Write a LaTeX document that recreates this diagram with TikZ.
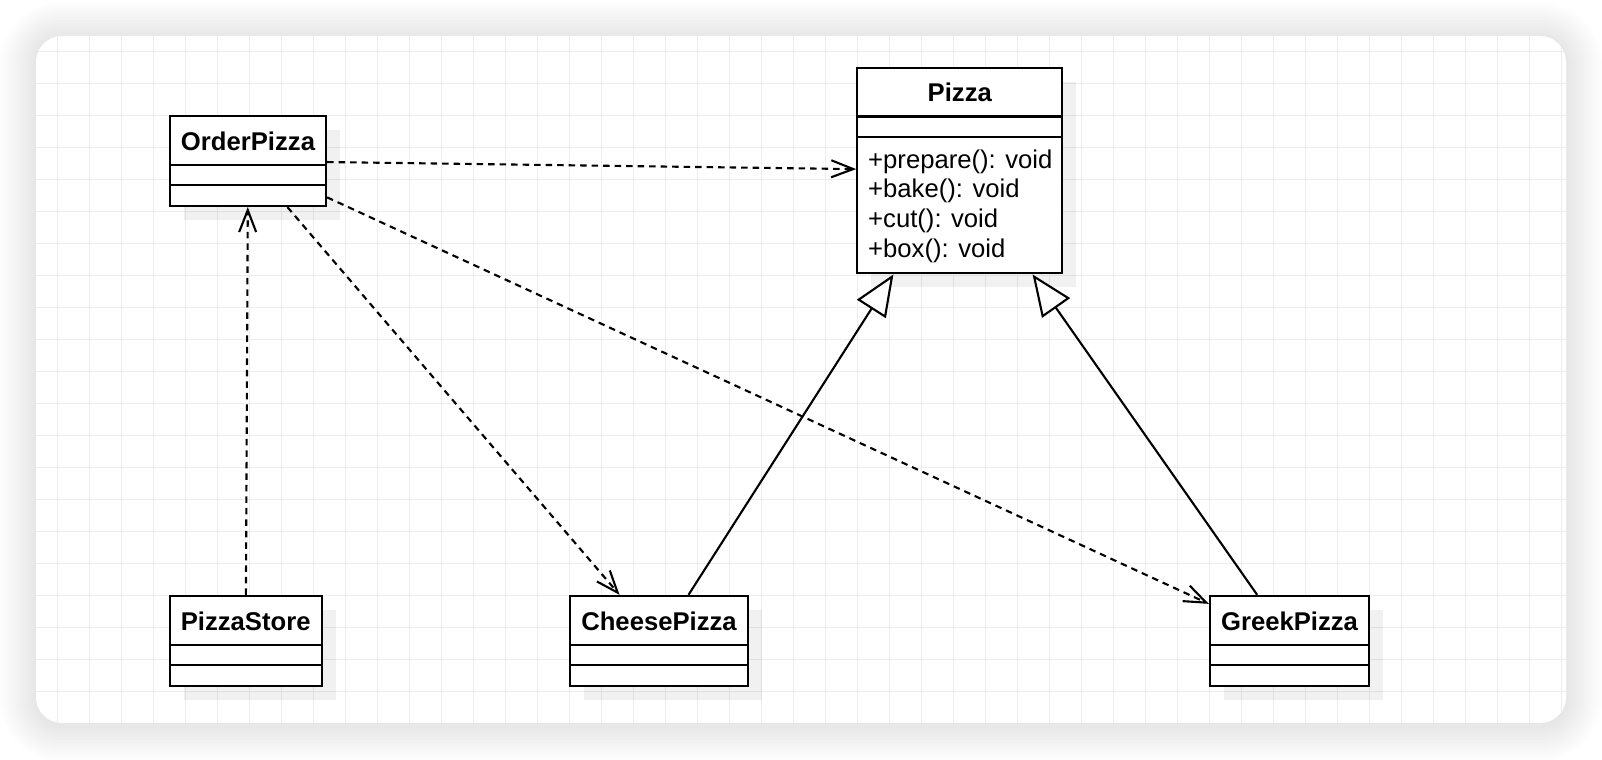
\documentclass[tikz,border=0pt]{standalone}
\usepackage{fontspec}
\setmainfont{Liberation Sans}
\usepackage{tikz}
\usetikzlibrary{shadows,arrows.meta}

\definecolor{gridgrey}{HTML}{EDEDED}
\tikzset{
  umlclass/.style={draw, line width=0.65pt, fill=white, inner sep=0pt, minimum height=0.9cm,
    drop shadow={shadow xshift=0.14cm, shadow yshift=-0.14cm, fill=black, opacity=0.055}},
  classname/.style={anchor=base, inner sep=0pt, font=\fontsize{7.3pt}{8.4pt}\selectfont\bfseries},
  classop/.style={anchor=base west, inner sep=0pt, font=\fontsize{7.3pt}{8.4pt}\selectfont},
  classsep/.style={line width=0.65pt},
  depends/.style={-{Straight Barb[length=0.22cm,width=0.17cm]}, line width=0.6pt, dash pattern=on 0.065cm off 0.05cm},
  inherits/.style={-{Triangle[open,length=0.41cm,width=0.34cm,fill=white]}, line width=0.6pt},
  gridline/.style={draw=gridgrey, line width=0.015cm}
}

\begin{document}
\begin{tikzpicture}
\useasboundingbox (0cm,0cm) rectangle (16.02cm,-7.6cm);
% sheet with soft shadow
\foreach \i in {1,...,12}
  \fill[black, opacity=0.009, rounded corners={0.26cm+0.03cm*\i}]
    ({0.36-0.03*\i},{-0.38+0.03*\i}) rectangle ({15.66+0.03*\i},{-7.25-0.03*\i});
\fill[white, rounded corners=0.26cm] (0.36cm,-0.36cm) rectangle (15.66cm,-7.23cm);
\begin{scope}
\clip[rounded corners=0.26cm] (0.36cm,-0.36cm) rectangle (15.66cm,-7.23cm);
\draw[gridline, xshift=0.573cm, yshift=-0.517cm] (-0.32cm,0.32cm) grid[step=0.32cm] (15.1cm,-6.8cm);
\end{scope}

% classes
\node[umlclass, minimum width=1.56cm] (order) at (2.48cm,-1.61cm) {};
\node[classname] (order-name) at ([yshift=-0.353cm]order.north) {OrderPizza};
\draw[classsep] ([yshift=-0.5cm]order.north west) -- ([yshift=-0.5cm]order.north east);
\draw[classsep] ([yshift=-0.7cm]order.north west) -- ([yshift=-0.7cm]order.north east);

\node[umlclass, minimum width=2.05cm, minimum height=2.056cm] (pizza) at (9.598cm,-1.705cm) {};
\node[classname] (pizza-name) at ([yshift=-0.353cm]pizza.north) {Pizza};
\draw[classsep] ([yshift=-0.5cm]pizza.north west) -- ([yshift=-0.5cm]pizza.north east);
\draw[classsep] ([yshift=-0.703cm]pizza.north west) -- ([yshift=-0.703cm]pizza.north east);
\node[classop] (pizza-prepare) at (8.675cm,-1.683cm) {+prepare(): void};
\node[classop] (pizza-bake) at (8.675cm,-1.98cm) {+bake(): void};
\node[classop] (pizza-cut) at (8.675cm,-2.277cm) {+cut(): void};
\node[classop] (pizza-box) at (8.675cm,-2.574cm) {+box(): void};

\node[umlclass, minimum width=1.52cm] (store) at (2.457cm,-6.41cm) {};
\node[classname] (store-name) at ([yshift=-0.353cm]store.north) {PizzaStore};
\draw[classsep] ([yshift=-0.5cm]store.north west) -- ([yshift=-0.5cm]store.north east);
\draw[classsep] ([yshift=-0.7cm]store.north west) -- ([yshift=-0.7cm]store.north east);

\node[umlclass, minimum width=1.78cm] (cheese) at (6.59cm,-6.41cm) {};
\node[classname] (cheese-name) at ([yshift=-0.353cm]cheese.north) {CheesePizza};
\draw[classsep] ([yshift=-0.5cm]cheese.north west) -- ([yshift=-0.5cm]cheese.north east);
\draw[classsep] ([yshift=-0.7cm]cheese.north west) -- ([yshift=-0.7cm]cheese.north east);

\node[umlclass, minimum width=1.59cm] (greek) at (12.895cm,-6.41cm) {};
\node[classname] (greek-name) at ([yshift=-0.353cm]greek.north) {GreekPizza};
\draw[classsep] ([yshift=-0.5cm]greek.north west) -- ([yshift=-0.5cm]greek.north east);
\draw[classsep] ([yshift=-0.7cm]greek.north west) -- ([yshift=-0.7cm]greek.north east);

% relations
\draw[depends] (order) -- (pizza);
\draw[depends] (order) -- (cheese);
\draw[depends] (order) -- (greek);
\draw[depends] (store) -- (order);
\draw[inherits] (cheese) -- (pizza);
\draw[inherits] (greek) -- (pizza);
\end{tikzpicture}
\end{document}
